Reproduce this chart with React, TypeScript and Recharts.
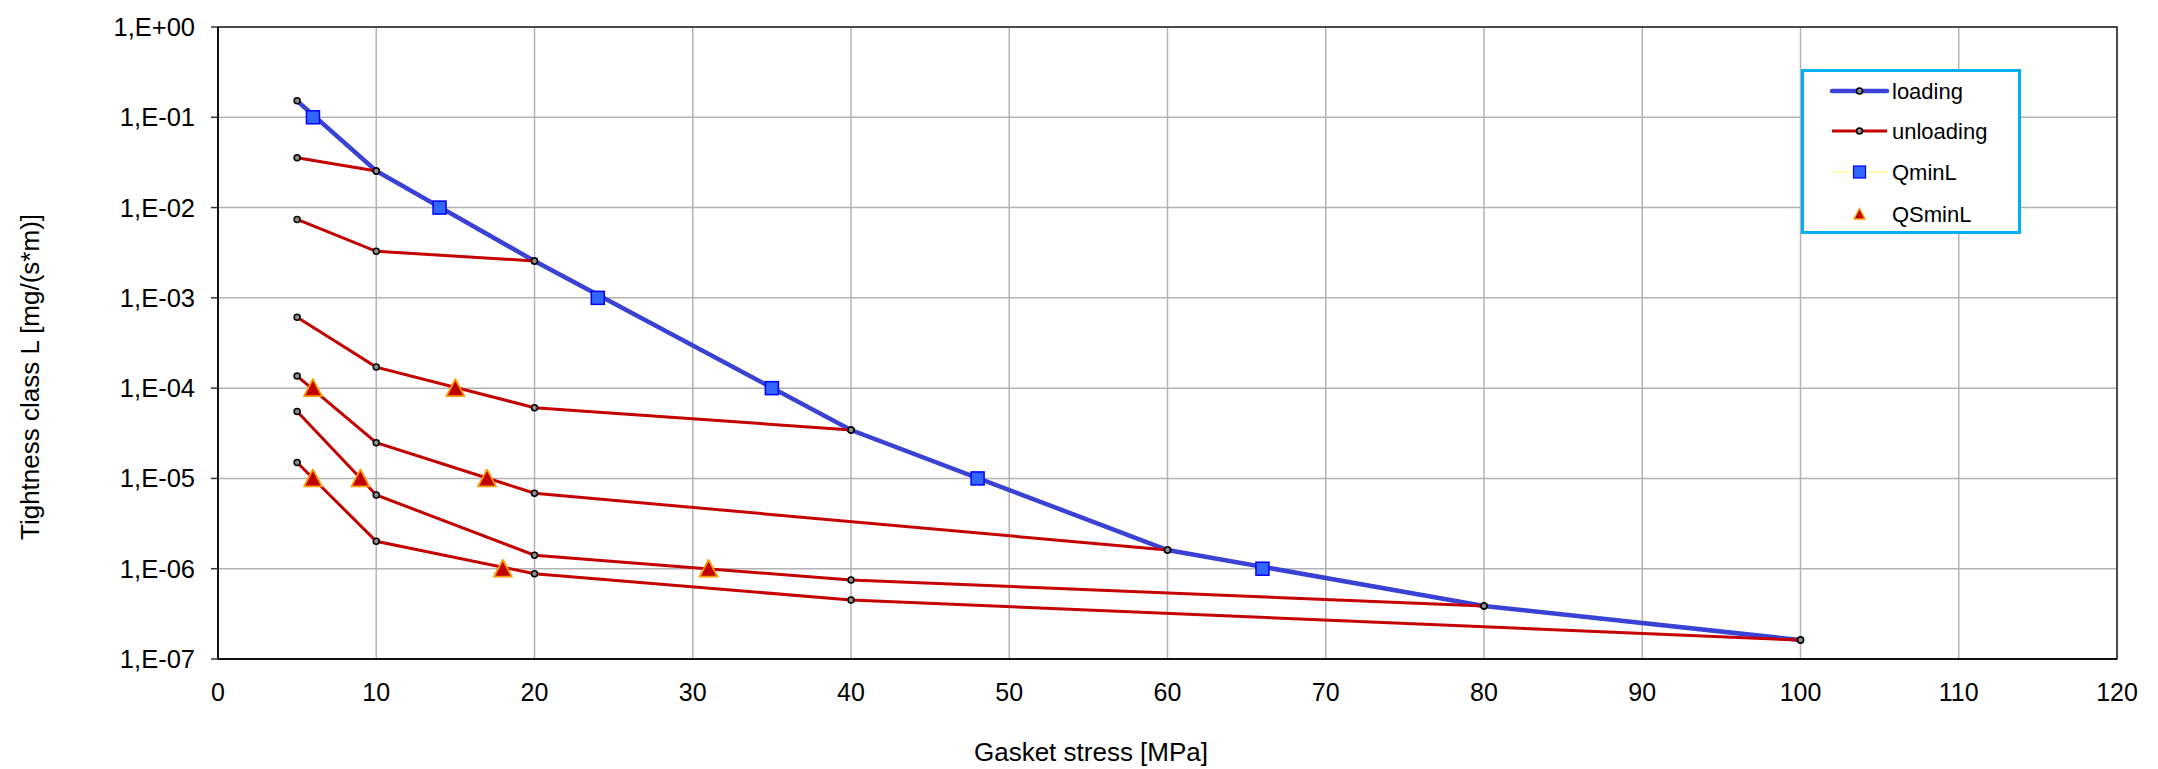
import React from "react";
import {
  CartesianGrid,
  ComposedChart,
  Legend,
  Line,
  ReferenceArea,
  Scatter,
  XAxis,
  YAxis,
} from "recharts";

const FONT = "'Liberation Sans', Arial, sans-serif";
const BLUE = "#3A42D6";
const RED = "#C40000";

// tick values
const X_TICKS = [0, 10, 20, 30, 40, 50, 60, 70, 80, 90, 100, 110, 120];
const Y_TICKS = [1e-7, 1e-6, 1e-5, 1e-4, 1e-3, 1e-2, 1e-1, 1];

// loading curve: gasket stress [MPa] / tightness L
const LOADING_X = [5, 10, 20, 40, 60, 80, 100];
const LOADING_L = [1.52e-1, 2.54e-2, 2.56e-3, 3.44e-5, 1.61e-6, 3.87e-7, 1.62e-7];

// unloading curves, each back from a loading point
const UNLOAD_1_X = [5, 10];
const UNLOAD_1_L = [3.57e-2, 2.54e-2];
const UNLOAD_2_X = [5, 10, 20];
const UNLOAD_2_L = [7.4e-3, 3.28e-3, 2.56e-3];
const UNLOAD_3_X = [5, 10, 20, 40];
const UNLOAD_3_L = [6.1e-4, 1.71e-4, 6.08e-5, 3.44e-5];
const UNLOAD_4_X = [5, 10, 20, 60];
const UNLOAD_4_L = [1.36e-4, 2.49e-5, 6.86e-6, 1.61e-6];
const UNLOAD_5_X = [5, 10, 20, 40, 80];
const UNLOAD_5_L = [5.5e-5, 6.56e-6, 1.41e-6, 7.5e-7, 3.87e-7];
const UNLOAD_6_X = [5, 10, 20, 40, 100];
const UNLOAD_6_L = [1.5e-5, 2.01e-6, 8.8e-7, 4.5e-7, 1.62e-7];

// QminL / QSminL markers
const QMINL_X = [6, 14, 24, 35, 48, 66];
const QMINL_L = [1e-1, 1e-2, 1e-3, 1e-4, 1e-5, 1e-6];
const QSMINL_X = [6, 15, 6, 9, 17, 18, 31];
const QSMINL_L = [1e-4, 1e-4, 1e-5, 1e-5, 1e-5, 1e-6, 1e-6];

const pts = (xs: number[], ys: number[]) => xs.map((x, i) => ({ x, y: ys[i] }));

const loading = pts(LOADING_X, LOADING_L);
const unloading = [
  pts(UNLOAD_1_X, UNLOAD_1_L),
  pts(UNLOAD_2_X, UNLOAD_2_L),
  pts(UNLOAD_3_X, UNLOAD_3_L),
  pts(UNLOAD_4_X, UNLOAD_4_L),
  pts(UNLOAD_5_X, UNLOAD_5_L),
  pts(UNLOAD_6_X, UNLOAD_6_L),
];
const qminL = pts(QMINL_X, QMINL_L);
const qsminL = pts(QSMINL_X, QSMINL_L);

const fmtExp = (v: number) => {
  const e = Math.round(Math.log10(v));
  const s = e < 0 ? "-" : "+";
  return `1,E${s}${String(Math.abs(e)).padStart(2, "0")}`;
};

const DOT = { r: 3, fill: "#8c8c8c", stroke: "#000", strokeWidth: 1.5 };

const Square = (p: any) => (
  <rect x={p.cx - 6.5} y={p.cy - 6.5} width={13} height={13} fill="#3366FF" stroke="#0000FF" strokeWidth={1.5} />
);

const Triangle = (p: any) => (
  <path
    d={`M${p.cx},${p.cy - 9} L${p.cx + 9},${p.cy + 8} L${p.cx - 9},${p.cy + 8} Z`}
    fill="#C00000"
    stroke="#FF9900"
    strokeWidth={1.8}
    strokeLinejoin="round"
  />
);

function LegendBox() {
  const rowY = [22, 62, 103, 145];
  return (
    <div
      style={{
        width: 220,
        height: 165,
        boxSizing: "border-box",
        border: "3px solid #00B0F0",
        background: "#fff",
      }}
    >
      <svg width={214} height={159} style={{ display: "block" }}>
        <g transform="translate(-3,-3)">
          <line x1={31} x2={86} y1={rowY[0]} y2={rowY[0]} stroke={BLUE} strokeWidth={4.5} strokeLinecap="round" />
          <circle cx={58.5} cy={rowY[0]} r={3} fill="#8c8c8c" stroke="#000" strokeWidth={1.5} />
          <line x1={31} x2={86} y1={rowY[1]} y2={rowY[1]} stroke={RED} strokeWidth={3} />
          <circle cx={58.5} cy={rowY[1]} r={3} fill="#8c8c8c" stroke="#000" strokeWidth={1.5} />
          <line x1={31} x2={86} y1={rowY[2]} y2={rowY[2]} stroke="#FFFF66" strokeWidth={1} />
          <rect x={52.5} y={rowY[2] - 6} width={12} height={12} fill="#3366FF" stroke="#0000FF" strokeWidth={1.2} />
          <path
            d={`M58.5,${rowY[3] - 5.5} L64,${rowY[3] + 5} L53,${rowY[3] + 5} Z`}
            fill="#C00000"
            stroke="#FF9900"
            strokeWidth={1.3}
          />
          {["loading", "unloading", "QminL", "QSminL"].map((t, i) => (
            <text key={t} x={91} y={rowY[i]} dy="0.36em" fontSize={22} fontFamily={FONT} fill="#000">
              {t}
            </text>
          ))}
        </g>
      </svg>
    </div>
  );
}

export default function App() {
  return (
    <div style={{ position: "absolute", left: 0, top: 0, background: "#fff" }}>
      <ComposedChart width={2158} height={769} margin={{ top: 27, right: 41, left: 0, bottom: 0 }}>
        <CartesianGrid stroke="#b3b3b3" strokeWidth={1.5} />
        <XAxis
          type="number"
          dataKey="x"
          domain={[0, 120]}
          ticks={X_TICKS}
          height={110}
          axisLine={{ stroke: "#000", strokeWidth: 1.5 }}
          tickLine={false}
          tickSize={0}
          tickMargin={24}
          tick={{ fontSize: 25, fill: "#000", fontFamily: FONT }}
          label={{
            content: () => (
              <text x={1091} y={761} textAnchor="middle" fontSize={26} fontFamily={FONT} fill="#000">
                Gasket stress [MPa]
              </text>
            ),
          }}
        />
        <YAxis
          type="number"
          dataKey="y"
          scale="log"
          domain={[1e-7, 1]}
          allowDataOverflow
          ticks={Y_TICKS}
          width={218}
          axisLine={{ stroke: "#000", strokeWidth: 1.5 }}
          tickLine={{ stroke: "#333", strokeWidth: 1.5 }}
          tickSize={7}
          tickMargin={16}
          tickFormatter={fmtExp}
          tick={{ fontSize: 25.5, fill: "#000", fontFamily: FONT }}
          label={{
            content: () => (
              <text
                x={30}
                y={377}
                transform="rotate(-90, 30, 377)"
                textAnchor="middle"
                dy="0.36em"
                fontSize={26}
                fontFamily={FONT}
                fill="#000"
              >
                Tightness class L [mg/(s*m)]
              </text>
            ),
          }}
        />
        <ReferenceArea x1={0} x2={120} y1={1e-7} y2={1} fill="none" stroke="#222" strokeWidth={1.5} />
        <Line
          data={loading}
          dataKey="y"
          type="linear"
          stroke={BLUE}
          strokeWidth={4.5}
          dot={DOT}
          activeDot={false}
          isAnimationActive={false}
        />
        {unloading.map((d, i) => (
          <Line
            key={i}
            data={d}
            dataKey="y"
            type="linear"
            stroke={RED}
            strokeWidth={3}
            dot={DOT}
            activeDot={false}
            isAnimationActive={false}
          />
        ))}
        <Scatter data={qminL} dataKey="y" shape={Square} isAnimationActive={false} />
        <Scatter data={qsminL} dataKey="y" shape={Triangle} isAnimationActive={false} />
        <Legend
          layout="vertical"
          align="center"
          verticalAlign="middle"
          content={() => <LegendBox />}
          wrapperStyle={{ left: 1801, top: 69, width: 220, height: 165 }}
        />
      </ComposedChart>
    </div>
  );
}
